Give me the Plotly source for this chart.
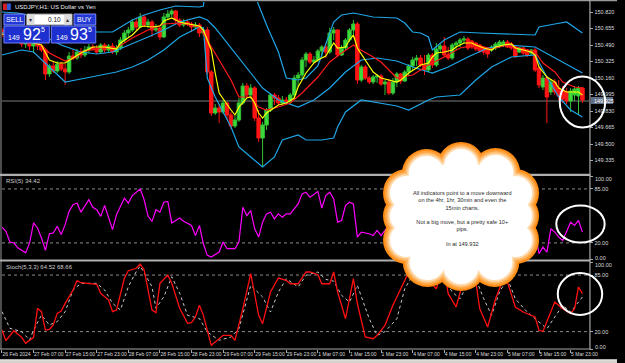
import plotly.graph_objects as go

W, H = 625, 363
def px(x): return x / W
def py(y): return 1 - y / H

# ---------------- data ----------------
time_labels = ["26 Feb 2024", "27 Feb 07:00", "27 Feb 15:00", "27 Feb 23:00", "28 Feb 07:00",
               "28 Feb 15:00", "28 Feb 23:00", "29 Feb 07:00", "29 Feb 15:00", "29 Feb 23:00",
               "1 Mar 07:00", "1 Mar 15:00", "1 Mar 23:00", "4 Mar 07:00", "4 Mar 15:00",
               "4 Mar 23:00", "5 Mar 07:00", "5 Mar 15:00", "5 Mar 23:00"]
time_label_bars = [0, 8, 16, 24, 32, 40, 48, 56, 64, 72, 80, 88, 96, 104, 112, 120, 128, 136, 144]

bars = list(range(148))
opens = [150.64,150.61,150.63,150.58,150.55,150.57,150.50,150.52,150.48,150.51,
         150.48,150.44,150.20,150.28,150.23,150.30,150.25,150.22,150.38,150.36,
         150.42,150.39,150.44,150.47,150.45,150.42,150.49,150.44,150.48,150.42,
         150.46,150.54,150.61,150.64,150.72,150.67,150.77,150.69,150.72,150.64,
         150.66,150.57,150.77,150.80,150.83,150.74,150.69,150.72,150.70,150.67,
         150.69,150.61,150.64,150.22,149.81,149.86,149.82,149.91,149.79,149.68,
         149.74,149.91,150.08,149.99,150.06,149.76,149.56,149.69,149.84,149.99,
         149.96,149.91,149.94,149.92,149.99,150.16,150.19,150.34,150.40,150.32,
         150.34,150.43,150.47,150.42,150.61,150.64,150.39,150.46,150.54,150.64,
         150.70,150.14,150.27,150.16,150.12,150.17,150.18,150.10,150.12,150.01,
         150.12,150.20,150.13,150.22,150.28,150.34,150.36,150.29,150.24,150.39,
         150.29,150.45,150.48,150.39,150.36,150.49,150.51,150.54,150.55,150.53,
         150.51,150.49,150.47,150.46,150.44,150.46,150.48,150.49,150.52,150.50,
         150.47,150.42,150.46,150.44,150.41,150.44,150.26,150.07,150.16,150.02,
         150.12,150.06,150.04,150.02,149.93,149.99,149.98,150.06]
highs = [150.66,150.66,150.65,150.60,150.60,150.58,150.55,150.54,150.54,150.53,
         150.50,150.45,150.30,150.32,150.33,150.32,150.30,150.42,150.44,150.45,
         150.46,150.48,150.50,150.50,150.49,150.51,150.51,150.50,150.51,150.49,
         150.57,150.64,150.67,150.75,150.76,150.81,150.79,150.75,150.74,150.70,
         150.67,150.81,150.84,150.85,150.84,150.76,150.75,150.74,150.72,150.72,
         150.71,150.67,150.67,150.24,149.90,149.90,149.94,149.92,149.82,149.78,
         149.96,150.11,150.11,150.10,150.08,149.84,149.72,149.86,150.01,150.01,
         149.99,149.98,149.97,150.01,150.19,150.22,150.37,150.42,150.42,150.38,
         150.45,150.49,150.51,150.66,150.67,150.65,150.49,150.56,150.66,150.74,
         150.72,150.29,150.29,150.18,150.19,150.20,150.20,150.14,150.15,150.16,
         150.22,150.21,150.24,150.30,150.37,150.39,150.39,150.39,150.41,150.41,
         150.51,150.50,150.57,150.47,150.51,150.53,150.56,150.58,150.57,150.54,
         150.52,150.50,150.48,150.47,150.49,150.52,150.54,150.54,150.54,150.52,
         150.49,150.47,150.47,150.45,150.45,150.46,150.28,150.19,150.18,150.15,
         150.15,150.14,150.08,150.06,150.06,150.08,150.08,150.07]
lows = [150.58,150.59,150.56,150.52,150.53,150.47,150.46,150.44,150.41,150.44,
        150.42,150.14,150.17,150.21,150.21,150.23,150.09,150.20,150.34,150.34,
        150.36,150.37,150.41,150.43,150.40,150.41,150.41,150.42,150.40,150.39,
        150.44,150.51,150.57,150.62,150.64,150.66,150.67,150.66,150.57,150.62,
        150.54,150.56,150.74,150.77,150.71,150.67,150.67,150.68,150.62,150.65,
        150.57,150.58,150.19,149.78,149.79,149.71,149.80,149.74,149.65,149.66,
        149.72,149.89,149.97,149.95,149.73,149.52,149.27,149.64,149.82,149.89,
        149.89,149.89,149.90,149.90,149.94,150.07,150.14,150.27,150.30,150.31,
        150.32,150.37,150.36,150.40,150.54,150.37,150.38,150.44,150.52,150.56,
        150.10,150.12,150.14,150.10,150.10,150.11,150.08,149.99,149.99,149.99,
        150.07,150.10,150.12,150.18,150.24,150.28,150.27,150.19,150.22,150.26,
        150.27,150.41,150.37,150.34,150.34,150.44,150.47,150.50,150.44,150.45,
        150.43,150.41,150.39,150.36,150.42,150.44,150.46,150.47,150.46,150.44,
        150.36,150.41,150.39,150.37,150.39,150.22,150.06,150.04,149.71,149.99,
        149.99,149.94,149.91,149.90,149.82,149.93,149.79,149.91]
closes = [150.61,150.63,150.58,150.55,150.57,150.50,150.52,150.48,150.51,150.48,
          150.44,150.20,150.28,150.23,150.30,150.25,150.22,150.38,150.36,150.42,
          150.39,150.44,150.47,150.45,150.42,150.49,150.44,150.48,150.42,150.46,
          150.54,150.61,150.64,150.72,150.67,150.77,150.69,150.72,150.64,150.66,
          150.57,150.77,150.80,150.83,150.74,150.69,150.72,150.70,150.67,150.69,
          150.61,150.64,150.22,149.81,149.86,149.82,149.91,149.79,149.68,149.74,
          149.91,150.08,149.99,150.06,149.76,149.56,149.69,149.84,149.99,149.96,
          149.91,149.94,149.92,149.99,150.16,150.19,150.34,150.40,150.32,150.34,
          150.43,150.47,150.42,150.61,150.64,150.39,150.46,150.54,150.64,150.70,
          150.14,150.27,150.16,150.12,150.17,150.18,150.10,150.12,150.01,150.12,
          150.20,150.13,150.22,150.28,150.34,150.36,150.29,150.24,150.39,150.29,
          150.45,150.48,150.39,150.36,150.49,150.51,150.54,150.55,150.46,150.47,
          150.45,150.43,150.42,150.40,150.47,150.50,150.52,150.52,150.47,150.46,
          150.38,150.46,150.41,150.39,150.44,150.24,150.09,150.16,149.97,150.12,
          150.02,149.98,149.95,149.93,150.03,150.05,150.06,149.94]

ma_fast_bars = [0,4,8,10,12,14,16,18,20,23,26,29,30,33,35,36,38,40,41,43,45,46,50,51,53,54,55,58,59,60,
                62,63,64,65,66,67,70,72,74,75,77,79,80,82,83,84,85,87,88,89,90,92,94,96,100,101,103,105,106,108,
                109,110,112,114,115,117,119,120,122,124,125,127,129,130,132,134,135,136,138,140,141,143,145,146,147]
ma_fast = [150.60,150.56,150.51,150.49,150.34,150.31,150.31,150.36,150.41,150.47,150.47,150.45,150.51,150.59,150.67,
           150.68,150.67,150.68,150.73,150.76,150.72,150.71,150.68,150.64,150.44,150.21,150.01,149.84,149.79,149.87,
           149.96,149.97,149.91,149.81,149.76,149.81,149.89,149.91,149.96,150.07,150.21,150.31,150.34,150.38,150.44,
           150.51,150.46,150.47,150.54,150.59,150.46,150.34,150.22,150.16,150.12,150.14,150.21,150.26,150.29,150.31,
           150.37,150.41,150.42,150.44,150.47,150.51,150.51,150.49,150.46,150.44,150.47,150.49,150.50,150.46,150.44,
           150.42,150.39,150.27,150.17,150.12,150.06,150.02,150.02,150.02,149.99]

ma_slow_bars = [0,4,8,10,12,16,19,20,25,29,33,37,41,45,50,52,55,58,60,63,65,67,70,73,76,80,83,86,89,90,
                94,96,100,104,108,112,116,120,124,128,131,135,137,140,142,145,147]
ma_slow = [150.58,150.56,150.52,150.49,150.41,150.33,150.37,150.42,150.46,150.46,150.56,150.64,150.70,150.71,150.67,
           150.54,150.34,150.14,149.97,149.97,149.87,149.84,149.87,149.91,150.01,150.17,150.32,150.41,150.49,150.46,
           150.37,150.32,150.16,150.19,150.29,150.37,150.46,150.49,150.45,150.49,150.46,150.42,150.31,150.22,150.12,
           150.07,150.06]

bb_upper_bars = [0,4,10,15,20,24,28,33,36,40,44,50,51,52,55,58,62,64,65,67,70,72,75,77,80,82,84,86,89,94,
                 100,102,104,106,108,109,112,116,121,135,136,140,143,147]
bb_upper = [150.82,150.81,150.76,150.70,150.64,150.62,150.62,150.74,150.79,150.84,150.88,150.87,150.88,151.19,151.34,
            151.42,151.24,150.99,150.89,150.69,150.42,150.16,150.14,150.16,150.28,150.51,150.72,150.79,150.81,150.77,
            150.76,150.71,150.62,150.61,150.57,150.44,150.54,150.62,150.61,150.59,150.67,150.70,150.72,150.61]

bb_mid_bars = [0,5,10,15,20,24,28,33,37,41,45,50,52,54,58,62,66,70,75,79,83,87,91,95,100,104,109,113,118,123,
               128,135,140,147]
bb_mid = [150.61,150.64,150.59,150.49,150.42,150.40,150.42,150.50,150.57,150.64,150.72,150.77,150.74,150.66,150.46,
          150.27,150.06,149.94,149.87,149.94,150.06,150.22,150.34,150.36,150.33,150.27,150.21,150.27,150.37,150.46,
          150.49,150.47,150.36,150.21]

bb_lower_bars = [0,5,8,12,16,20,25,29,33,37,41,45,50,51,52,54,58,60,63,66,69,71,75,77,81,84,85,87,91,95,
                 100,103,108,110,116,120,124,129,135,138,141,144,147]
bb_lower = [150.39,150.44,150.42,150.27,150.12,150.15,150.19,150.22,150.27,150.34,150.44,150.57,150.67,150.66,150.16,
            149.97,149.67,149.47,149.37,149.27,149.37,149.54,149.59,149.54,149.54,149.56,149.67,149.82,149.94,149.91,
            149.88,149.84,149.94,149.97,149.99,150.14,150.27,150.37,150.39,150.17,149.97,149.84,149.77]

bid_price = 149.93

rsi_bars = [0,1,2,3,4,5,6,7,8,9,10,11,12,13,14,15,16,17,18,19,20,22,23,24,25,26,28,29,31,32,
            33,35,36,37,38,39,40,41,42,43,45,46,47,48,49,50,51,52,53,55,56,57,59,60,61,62,63,64,65,66,
            67,68,69,70,71,72,73,75,76,77,78,79,80,81,82,83,84,85,86,87,88,89,90,91,93,94,95,96,98,99,
            101,103,105,107,109,110,112,114,117,119,121,123,125,127,129,131,133,134,135,136,137,138,139,140,
            141,142,144,145,146,147]
rsi = [39,34,21,20,14,11,8,20,44,38,26,11,31,32,40,30,42,58,66,68,57,72,63,60,52,65,36,54,74,68,
       77,85,72,52,46,60,57,69,70,44,50,46,43,41,29,41,19,5,3,9,21,13,13,21,63,53,59,37,27,45,
       55,57,49,55,51,55,55,67,79,81,75,79,82,62,77,81,73,45,47,65,69,67,27,33,31,29,35,29,41,27,
       45,60,62,50,58,68,55,65,72,52,45,40,55,60,50,48,42,37,33,7,15,9,37,33,
       27,23,45,41,47,33]

stoch_main_bars = [0,1,3,4,5,6,8,9,10,11,12,13,14,15,16,18,19,20,22,24,25,27,28,29,31,32,34,35,36,38,
                   39,40,42,43,45,47,48,49,50,51,53,54,56,58,59,61,63,65,66,68,70,72,73,75,77,78,80,81,83,84,
                   85,87,89,90,92,94,95,97,99,101,103,104,105,106,107,108,110,111,112,113,115,117,118,120,121,123,125,127,
                   128,130,132,135,136,137,139,140,142,144,145,146,147]
stoch_main = [21.8,9.6,21,17.2,13.4,6.5,13.4,46.8,42.9,21.8,22.6,27.6,41,43.7,52.5,67.8,78.5,76.2,75.5,74.4,
              64,56.3,42.9,44.8,81.3,90,92.8,97.7,90.8,44.8,41.7,75.5,85,75.5,46.8,29.5,30.2,37,50.2,38.7,
              4.2,8,15.7,15.7,10,46.3,86.6,38.7,29.1,65.5,81.6,79,75,75,88.5,88.5,85.4,75,75,88.5,
              65.5,34.8,80.8,52,13.8,11.8,15.7,27.2,50.2,69.3,88.5,92.3,91.6,84.7,75,79,69.3,84.7,92.3,63.6,
              48.3,80.8,90,77,46.3,25.3,57.8,80.8,77,48.3,42.5,36.8,21.5,20.3,42.5,54,46.3,40.6,46.3,71.3,63.6]

stoch_signal_bars = [0,2,5,7,8,10,12,14,16,18,20,24,26,28,30,32,34,35,38,39,41,43,45,47,50,52,55,58,60,63,
                     66,68,70,72,75,77,80,82,84,86,88,90,93,95,97,100,102,105,107,110,112,114,116,118,120,122,124,126,
                     128,130,133,135,138,140,142,144,147]
stoch_signal = [43,23.8,19.9,10.3,21.8,39,27.6,31.4,42.9,67.8,75.5,75.5,67.8,52.5,44.8,71.6,88.9,95.4,71.6,46.8,
                60.1,83.1,64,38.7,35,19.5,10,13.8,23.3,73.2,59.8,42.5,65.5,80.8,71.3,84.7,88.5,80,78,61.7,
                54,73.2,34.8,15.7,20,34.8,69.3,92.3,84.7,75,80.8,65.5,57.8,75,80.8,57.8,38.7,65.5,
                80.8,57.8,42.5,34.8,23.3,36.8,50.2,42.5,59.8]

price_ticks = [150.820, 150.655, 150.490, 150.325, 150.160, 149.995, 149.830, 149.665, 149.500, 149.335]
osc_levels = [20, 85]
osc_limits = [0, 100]

# ---------------- figure ----------------
FONT = "Liberation Sans, Arial, sans-serif"
AX = "#a8a8a8"
TXT = "#dcdcdc"
CYAN = "#1ea6e6"

fig = go.Figure()
fig.add_trace(go.Candlestick(
    x=bars, open=opens, high=highs, low=lows, close=closes, xaxis="x", yaxis="y",
    increasing=dict(line=dict(color="#33c233", width=1), fillcolor="#3ddb3d"),
    decreasing=dict(line=dict(color="#ff1414", width=1), fillcolor="#ff1414"),
    whiskerwidth=0, hoverinfo="skip", showlegend=False))

def line(xs, ys, color, xa="x", ya="y", dash="solid", width=1.2):
    fig.add_trace(go.Scatter(x=xs, y=ys, mode="lines", xaxis=xa, yaxis=ya,
                             line=dict(color=color, width=width, dash=dash),
                             hoverinfo="skip", showlegend=False))

line(bb_upper_bars, bb_upper, CYAN)
line(bb_mid_bars, bb_mid, CYAN)
line(bb_lower_bars, bb_lower, CYAN)
line(ma_slow_bars, ma_slow, "#ff1a1a")
line(ma_fast_bars, ma_fast, "#ffff00")
line(rsi_bars, rsi, "#ff00ff", "x2", "y2")
line(stoch_signal_bars, stoch_signal, "#c8c8c8", "x3", "y3", dash="dot", width=1)
line(stoch_main_bars, stoch_main, "#ff1010", "x3", "y3", width=1.3)

xdom = [px(2), px(597)]
xr = [0, 148.75]
common_x = dict(domain=xdom, range=xr, showgrid=False, zeroline=False, fixedrange=True)
tickfont = dict(family=FONT, size=5.5, color=TXT)
xtickfont = dict(family=FONT, size=5, color=TXT)

fig.update_layout(
    width=W, height=H, margin=dict(l=0, r=0, t=0, b=0),
    paper_bgcolor="black", plot_bgcolor="black",
    showlegend=False, boxgap=0.12, boxgroupgap=0,
    xaxis=dict(**common_x, anchor="y", showticklabels=False, rangeslider=dict(visible=False)),
    xaxis2=dict(**common_x, anchor="y2", matches="x", showticklabels=False),
    xaxis3=dict(**common_x, anchor="y3", matches="x", tickmode="array",
                tickvals=time_label_bars, ticktext=time_labels, ticks="outside", ticklen=3,
                tickcolor=AX, tickangle=0, ticklabelposition="outside right",
                tickfont=xtickfont, ticklabelstandoff=0),
    yaxis=dict(domain=[py(172), py(2)], range=[149.22, 150.92], side="right", anchor="x",
               tickmode="array", tickvals=price_ticks, ticktext=[f"{v:.3f}" for v in price_ticks],
               ticks="outside", ticklen=3, tickcolor=AX, tickfont=tickfont,
               showgrid=False, zeroline=False, fixedrange=True),
    yaxis2=dict(domain=[py(259.5), py(176.5)], range=[0, 100], side="right", anchor="x2",
                tickmode="array", tickvals=osc_levels + osc_limits,
                ticktext=[f"{v:.2f}" for v in osc_levels] + ["", ""],
                ticks="outside", ticklen=3, tickcolor=AX, tickfont=tickfont,
                showgrid=False, zeroline=False, fixedrange=True),
    yaxis3=dict(domain=[py(349), py(262)], range=[0, 100], side="right", anchor="x3",
                tickmode="array", tickvals=osc_levels + osc_limits,
                ticktext=[f"{v:.2f}" for v in osc_levels] + ["", ""],
                ticks="outside", ticklen=3, tickcolor=AX, tickfont=tickfont,
                showgrid=False, zeroline=False, fixedrange=True),
)

shapes = []
def rect(x0, y0, x1, y1, fill, line_color=None, lw=0):
    shapes.append(dict(type="rect", xref="paper", yref="paper", x0=px(x0), x1=px(x1), y0=py(y1), y1=py(y0),
                       fillcolor=fill, line=dict(color=line_color or fill, width=lw), layer="above"))
def circ(cx, cy, rx, ry, fill=None, line_color=None, lw=0):
    d = dict(type="circle", xref="paper", yref="paper", x0=px(cx - rx), x1=px(cx + rx),
             y0=py(cy + ry), y1=py(cy - ry), line=dict(color=line_color or "rgba(0,0,0,0)", width=lw), layer="above")
    if fill:
        d["fillcolor"] = fill
    shapes.append(d)

# level lines and bid line
for lv in osc_levels:
    shapes.append(dict(type="line", xref="x2 domain", yref="y2", x0=0, x1=1, y0=lv, y1=lv,
                       line=dict(color="#8c8c8c", width=1, dash="dot"), layer="below"))
    shapes.append(dict(type="line", xref="x3 domain", yref="y3", x0=0, x1=1, y0=lv, y1=lv,
                       line=dict(color="#8c8c8c", width=1, dash="dot"), layer="below"))
shapes.append(dict(type="line", xref="x domain", yref="y", x0=0, x1=1, y0=bid_price, y1=bid_price,
                   line=dict(color="#7c7c7c", width=1), layer="below"))

# window frame / separators
rect(0, 0, 625, 1.2, "#9a9a9a")
rect(0.5, 0, 1.5, 349, "#9a9a9a")
rect(597, 0, 598.2, 349.5, AX)
rect(0, 173.8, 598, 176, "#b0b0b0")
rect(0, 259.6, 598, 261.6, "#b0b0b0")
rect(0, 348.6, 598.2, 349.6, AX)
rect(0, 359.5, 625, 363, "#d6d3ce")
rect(0, 359.5, 625, 360.2, "#f4f4f4")

# bid price box on the axis
rect(598.5, 97, 621, 104, "#5f6d86")

# one-click trading panel
rect(4, 14, 25, 25, "#2438d6", "#7b8cff", 1)
rect(27, 14, 73, 25, "#ffffff", "#8a8a8a", 1)
rect(27.5, 14.5, 35, 24.5, "#dcdcdc")
rect(65, 14.5, 72.5, 24.5, "#dcdcdc")
rect(75, 14, 97, 25, "#2438d6", "#7b8cff", 1)
rect(4, 26, 50, 43, "#1d2fcf", "#6d7ff5", 1)
rect(52, 26, 97, 43, "#1d2fcf", "#6d7ff5", 1)
# window icon
rect(3, 3.5, 7, 10, "#d42020")
rect(7, 3.5, 11, 10, "#2d5ad8")

# thought cloud
bumps = [(467, 166, 17), (432, 174, 18), (502, 173, 18), (522, 193, 17), (523, 216, 16), (522, 240, 17),
         (501, 262, 18), (467, 266, 18), (433, 262, 18), (412, 240, 17), (411, 216, 16), (412, 193, 17)]
for grow, col in ((7, "#ff8c14"), (5.2, "#ffa23c"), (3.4, "#ffbd72"), (1.7, "#ffdcb0")):
    for cx, cy, r in bumps:
        circ(cx, cy, r + grow, r + grow, fill=col)
for cx, cy, r in bumps:
    circ(cx, cy, r, r, fill="#ffffff")
circ(467, 216, 56, 54, fill="#ffffff")

# highlight ellipses
circ(590, 102, 23, 25.5, line_color="#ffffff", lw=2)
circ(588, 224, 24.5, 18.5, line_color="#ffffff", lw=2)
circ(587.5, 294, 22.5, 21, line_color="#ffffff", lw=2)

fig.update_layout(shapes=shapes)

ann = []
def text(x, y, s, size=6, color=TXT, anchor="left", family=FONT, valign="middle"):
    ann.append(dict(x=px(x), y=py(y), xref="paper", yref="paper", text=s, showarrow=False,
                    xanchor=anchor, yanchor=valign, font=dict(family=family, size=size, color=color)))

text(13, 7, "USDJPY,H1: US Dollar vs Yen", 6, "#f0f0f0")
text(4, 181, "RSI(5) 34.42", 6, "#cfcfcf")
text(4, 266.5, "Stoch(5,3,3) 64.52 68.66", 6, "#cfcfcf")
text(600, 100.7, "149.925", 5.5, "#ffffff")
# oscillator limit labels (MT4 keeps them inside the window)
text(601, 179.3, f"{osc_limits[1]:.2f}", 5.5)
text(601, 257.8, f"{osc_limits[0]:.2f}", 5.5)
text(601, 265.2, f"{osc_limits[1]:.2f}", 5.5)
text(601, 346.5, f"{osc_limits[0]:.2f}", 5.5)
# panel texts
text(14.5, 19.5, "SELL", 7, "#ffffff", "center", "Liberation Sans, Arial")
text(86, 19.5, "BUY", 7, "#ffffff", "center", "Liberation Sans, Arial")
text(31.2, 19.5, "▾", 6, "#333333", "center", "DejaVu Sans")
text(68.7, 19.5, "▴", 6, "#333333", "center", "DejaVu Sans")
text(64, 19.5, "0.10", 6.5, "#111111", "right", "Liberation Sans, Arial")
text(14, 37, "149", 7, "#ffffff", "center", "Liberation Sans, Arial")
text(32, 34.5, "92", 16, "#ffffff", "center", "Liberation Sans, Arial")
text(44, 29.5, "5", 7, "#ffffff", "center", "Liberation Sans, Arial")
text(63, 37, "149", 7, "#ffffff", "center", "Liberation Sans, Arial")
text(80, 34.5, "93", 16, "#ffffff", "center", "Liberation Sans, Arial")
text(91.5, 29.5, "5", 7, "#ffffff", "center", "Liberation Sans, Arial")

cloud_msg = ("All indicators point to a move downward<br>on the 4hr, 1hr, 30min and even the<br>15min charts."
             "<br> <br>Not a big move, but a pretty safe 10+<br>pips.<br> <br>In at 149.932")
ann.append(dict(x=px(469), y=py(218), xref="paper", yref="paper", text=cloud_msg, showarrow=False,
                xanchor="center", yanchor="middle", align="center",
                font=dict(family="Liberation Sans, Arial", size=5.6, color="#2a2a2a")))
fig.update_layout(annotations=ann)

fig.write_html("out.html")
